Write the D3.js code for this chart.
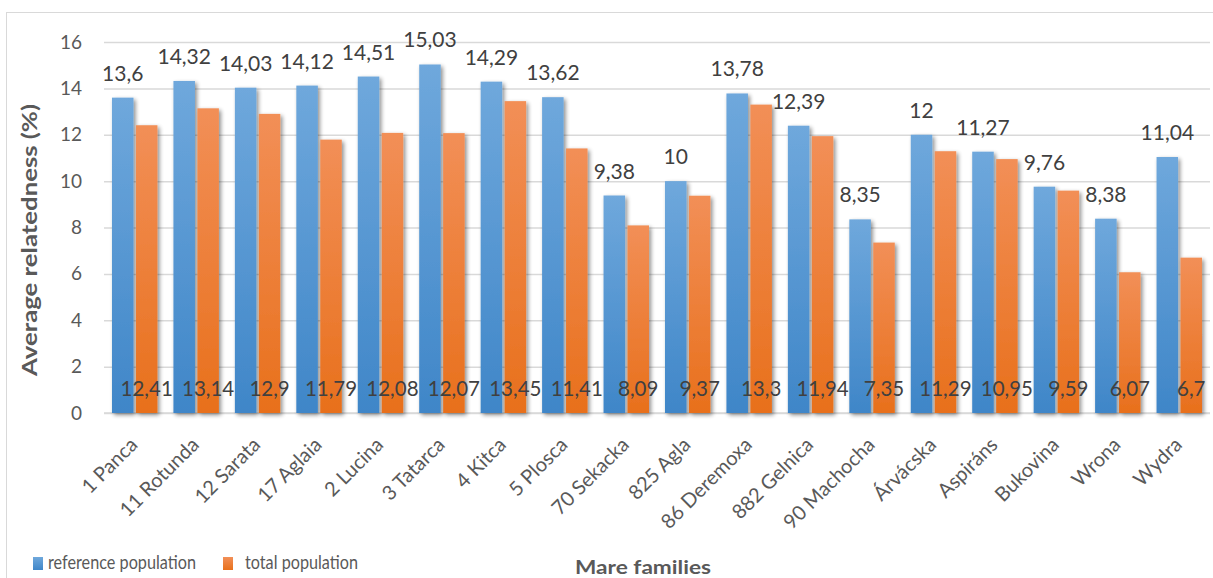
<!DOCTYPE html>
<html>
<head>
<meta charset="utf-8">
<script src="https://cdn.jsdelivr.net/npm/d3@7"></script>
<style>
  html, body { margin: 0; padding: 0; background: #fff; }
  svg { display: block; font-family: Lato, "Open Sans", sans-serif; }
</style>
</head>
<body>
<svg id="chart" width="1213" height="578"></svg>
<script>
const categories = ["1 Panca","11 Rotunda","12 Sarata","17 Aglaia","2 Lucina","3 Tatarca","4 Kitca","5 Plosca","70 Sekacka","825 Agla","86 Deremoxa","882 Gelnica","90 Machocha","Árvácska","Aspiráns","Bukovina","Wrona","Wydra"];
const referencePopulation = [13.6,14.32,14.03,14.12,14.51,15.03,14.29,13.62,9.38,10,13.78,12.39,8.35,12,11.27,9.76,8.38,11.04];
const totalPopulation = [12.41,13.14,12.9,11.79,12.08,12.07,13.45,11.41,8.09,9.37,13.3,11.94,7.35,11.29,10.95,9.59,6.07,6.7];
const yTicks = [0,2,4,6,8,10,12,14,16];
const seriesNames = ["reference population","total population"];

const svg = d3.select("#chart");
const m = {left: 104, right: 1210, top: 42, bottom: 413};

// chart border
svg.append("rect").attr("x", 6.5).attr("y", 12.5).attr("width", 1220).attr("height", 600)
  .attr("fill", "none").attr("stroke", "#d9d9d9").attr("stroke-width", 1);

const defs = svg.append("defs");
function grad(id, top, bottom) {
  const g = defs.append("linearGradient").attr("id", id).attr("x1", 0).attr("y1", 0).attr("x2", 0).attr("y2", 1);
  g.append("stop").attr("offset", "0%").attr("stop-color", top);
  g.append("stop").attr("offset", "100%").attr("stop-color", bottom);
}
grad("gBlue", "#6fa8dc", "#3f86c8");
grad("gOrange", "#f28f57", "#e8701c");
const f = defs.append("filter").attr("id", "shadow").attr("x", "-50%").attr("y", "-10%").attr("width", "200%").attr("height", "130%");
f.append("feGaussianBlur").attr("in", "SourceAlpha").attr("stdDeviation", 2.2).attr("result", "b");
f.append("feOffset").attr("in", "b").attr("dx", 1.5).attr("dy", 1.5).attr("result", "o");
f.append("feComponentTransfer").attr("in", "o").attr("result", "o2")
  .append("feFuncA").attr("type", "linear").attr("slope", 0.45);
const mg = f.append("feMerge");
mg.append("feMergeNode").attr("in", "o2");
mg.append("feMergeNode").attr("in", "SourceGraphic");

const x = d3.scaleBand().domain(categories).range([m.left, m.right]).paddingInner(0.26).paddingOuter(0.13);
const y = d3.scaleLinear().domain([0, 16]).range([m.bottom, m.top]);
const xs = d3.scaleBand().domain([0, 1]).range([0, x.bandwidth()]).paddingInner(0.1);

// gridlines
const yAxis = d3.axisLeft(y).tickValues(yTicks).tickSize(-(m.right - m.left)).tickPadding(22).tickFormat(d3.format("d"));
const ga = svg.append("g").attr("transform", `translate(${m.left},0)`).call(yAxis);
ga.select(".domain").remove();
ga.selectAll(".tick line").attr("stroke", "#d9d9d9").attr("stroke-width", 1.5);
ga.selectAll(".tick text").attr("fill", "#595959").style("font-size", "19px").style("font-family", "Lato, sans-serif");

// baseline
svg.append("line").attr("x1", m.left).attr("x2", m.right).attr("y1", y(0)).attr("y2", y(0))
  .attr("stroke", "#d9d9d9").attr("stroke-width", 1.5);

const data = categories.map((c, i) => ({c, v: [referencePopulation[i], totalPopulation[i]]}));
const grp = svg.append("g").selectAll("g").data(data).join("g")
  .attr("transform", d => `translate(${x(d.c)},0)`);
grp.selectAll("rect").data(d => d.v.map((v, k) => ({v, k}))).join("rect")
  .attr("x", d => xs(d.k)).attr("width", xs.bandwidth())
  .attr("y", d => y(d.v)).attr("height", d => y(0) - y(d.v))
  .attr("fill", d => d.k === 0 ? "url(#gBlue)" : "url(#gOrange)")
  .attr("filter", "url(#shadow)");

const fmt = v => String(v).replace(".", ",");
// labels for reference (above blue bars)
grp.append("text").attr("x", xs(0) + xs.bandwidth() / 2).attr("y", d => y(d.v[0]) - 17)
  .attr("text-anchor", "middle").attr("fill", "#404040").style("font-size", "21px")
  .text(d => fmt(d.v[0]));
// labels for total (inside base of orange bars)
grp.append("text").attr("x", xs(1) + xs.bandwidth() / 2).attr("y", y(0) - 17)
  .attr("text-anchor", "middle").attr("fill", "#404040").style("font-size", "20.5px")
  .text(d => fmt(d.v[1]));

// x labels
svg.append("g").selectAll("text").data(categories).join("text")
  .attr("transform", d => `translate(${x(d) + x.bandwidth() / 2 + 4},${y(0) + 33}) rotate(-45)`)
  .attr("text-anchor", "end").attr("fill", "#595959").style("font-size", "20px")
  .text(d => d);

// y title
svg.append("text").attr("transform", `translate(37,240) rotate(-90)`)
  .attr("text-anchor", "middle").attr("fill", "#595959").style("font-size", "20px").style("font-weight", "bold")
  .attr("textLength", 272).attr("lengthAdjust", "spacingAndGlyphs")
  .text("Average relatedness (%)");

// x title
svg.append("text").attr("x", 643).attr("y", 574).attr("text-anchor", "middle")
  .attr("fill", "#595959").style("font-size", "19px").style("font-weight", "bold")
  .attr("textLength", 136).attr("lengthAdjust", "spacingAndGlyphs")
  .text("Mare families");

// legend
const leg = [{n: seriesNames[0], x: 33, tx: 48, w: 148, g: "url(#gBlue)"}, {n: seriesNames[1], x: 223, tx: 245, w: 113, g: "url(#gOrange)"}];
const lg = svg.append("g").selectAll("g").data(leg).join("g");
lg.append("rect").attr("x", d => d.x).attr("y", 557).attr("width", 10).attr("height", 13).attr("fill", d => d.g);
lg.append("text").attr("x", d => d.tx).attr("y", 569).attr("fill", "#595959").style("font-size", "19px")
  .attr("textLength", d => d.w).attr("lengthAdjust", "spacingAndGlyphs").text(d => d.n);
</script>
</body>
</html>
